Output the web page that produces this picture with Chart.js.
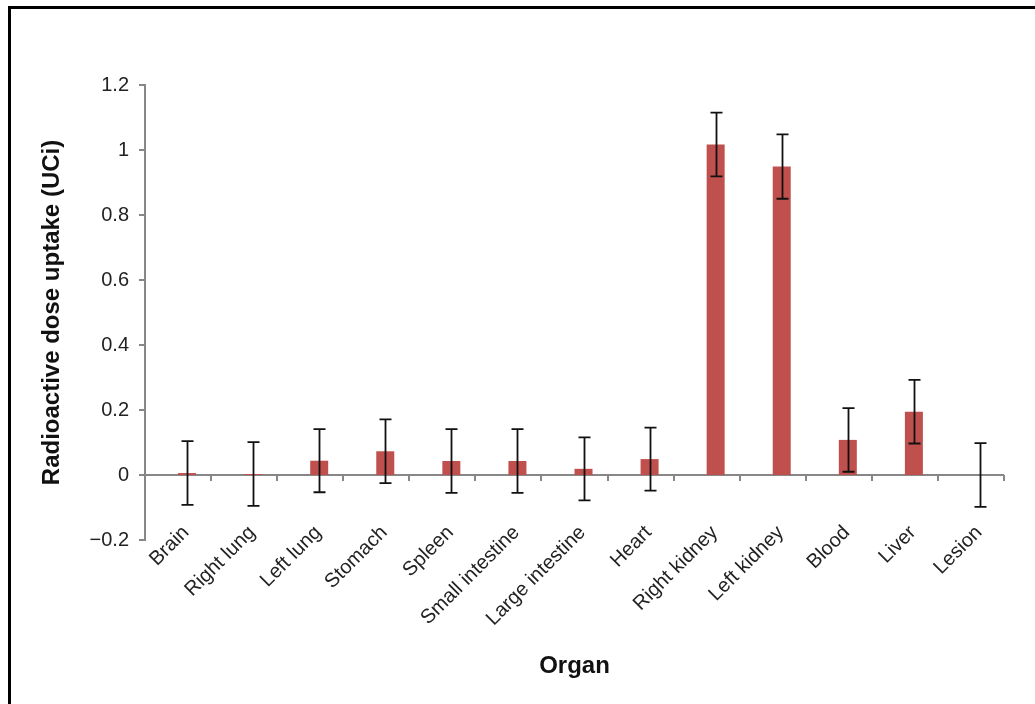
<!DOCTYPE html>
<html lang="en">
<head>
  <meta charset="UTF-8" />
  <title>Radioactive dose uptake by organ</title>
  <script src="https://cdn.jsdelivr.net/npm/chart.js"></script>
  <style>
    body {
      margin: 0;
      background: #ffffff;
      font-family: 'Liberation Sans', Arial, sans-serif;
    }

    .wrap {
      position: relative;
      width: 1035px;
      height: 704px;
    }

    .frame {
      position: absolute;
      left: 8px;
      top: 6px;
      right: 0;
      bottom: 0;
      border-top: 3px solid #000;
      border-left: 3px solid #000;
      pointer-events: none;
    }
  </style>
</head>
<body>

  <div class="wrap">
    <canvas id="uptakeChart"></canvas>
    <div class="frame"></div>
  </div>

  <script>
    // values
    const organs = ['Brain', 'Right lung', 'Left lung', 'Stomach', 'Spleen', 'Small intestine',
                    'Large intestine', 'Heart', 'Right kidney', 'Left kidney', 'Blood', 'Liver', 'Lesion'];
    const uptake = [0.006, 0.003, 0.044, 0.073, 0.043, 0.043, 0.019, 0.049, 1.017, 0.949, 0.108, 0.195, 0.0];
    const uptakeError = [0.098, 0.098, 0.097, 0.098, 0.098, 0.098, 0.097, 0.097, 0.098, 0.099, 0.098, 0.098, 0.098];
    // the original has an empty first series, which pushes the bars right of the category centre
    const emptySeries = [null, null, null, null, null, null, null, null, null, null, null, null, null];
    const yTicks = { min: -0.2, max: 1.2, step: 0.2 };

    const axisGrey = '#878787';
    const barRed = '#c0504d';
    const fontFamily = "'Liberation Sans', Arial, sans-serif";

    // error bars drawn on top of the bars, positioned with the chart's own scales
    const errorBars = {
      id: 'errorBars',
      afterDatasetsDraw(chart) {
        const { ctx, scales: { y } } = chart;
        const meta = chart.getDatasetMeta(1);
        ctx.save();
        ctx.strokeStyle = '#111';
        ctx.lineWidth = 1.8;
        meta.data.forEach((bar, i) => {
          const top = y.getPixelForValue(uptake[i] + uptakeError[i]);
          const bottom = y.getPixelForValue(uptake[i] - uptakeError[i]);
          const x = Math.round(bar.x) + 0.5;
          ctx.beginPath();
          ctx.moveTo(x, top);
          ctx.lineTo(x, bottom);
          ctx.moveTo(x - 6, top);
          ctx.lineTo(x + 6, top);
          ctx.moveTo(x - 6, bottom);
          ctx.lineTo(x + 6, bottom);
          ctx.stroke();
        });
        ctx.restore();
      }
    };

    const ctx = document.getElementById('uptakeChart').getContext('2d');

    new Chart(ctx, {
      type: 'bar',
      data: {
        labels: organs,
        datasets: [
          {
            label: '',
            data: emptySeries,
            backgroundColor: 'rgba(0,0,0,0)',
            categoryPercentage: 0.545,
            barPercentage: 1
          },
          {
            label: 'Uptake',
            data: uptake,
            backgroundColor: barRed,
            borderWidth: 0,
            categoryPercentage: 0.545,
            barPercentage: 1
          }
        ]
      },
      options: {
        responsive: true,
        maintainAspectRatio: false,
        animation: false,
        layout: {
          padding: { left: 12, top: 85, right: 31, bottom: 10 }
        },
        plugins: {
          legend: { display: false },
          tooltip: { enabled: false }
        },
        scales: {
          x: {
            type: 'category',
            position: 'bottom',
            offset: true,
            grid: { display: false, drawTicks: false },
            border: { display: false },
            ticks: { display: false },
            title: {
              display: true,
              text: 'Organ',
              color: '#111',
              padding: { top: 0, bottom: 13 },
              font: { family: fontFamily, size: 24, weight: 'bold' }
            },
            afterFit(scale) { scale.height = 154; }
          },
          // axis line crossing at zero: tick marks between categories and the rotated labels
          xZero: {
            type: 'category',
            axis: 'x',
            position: { y: 0 },
            offset: true,
            grid: {
              offset: true,
              drawOnChartArea: false,
              drawTicks: true,
              tickLength: 6,
              color: axisGrey,
              lineWidth: 2
            },
            border: { display: false },
            ticks: {
              maxRotation: 45,
              minRotation: 45,
              autoSkip: false,
              padding: 40,
              labelOffset: 8,
              color: '#222',
              font: { family: fontFamily, size: 20 }
            }
          },
          y: {
            min: yTicks.min,
            max: yTicks.max,
            grid: {
              color: c => (c.tick && Math.abs(c.tick.value) < 1e-9 ? axisGrey : 'rgba(0,0,0,0)'),
              lineWidth: 2,
              tickColor: axisGrey,
              tickLength: 6
            },
            border: { display: true, color: axisGrey, width: 2 },
            ticks: {
              stepSize: yTicks.step,
              padding: 10,
              color: '#222',
              font: { family: fontFamily, size: 20 },
              callback: v => {
                const r = Math.round(v * 10) / 10;
                return r < 0 ? '\u2212' + Math.abs(r) : String(r);
              }
            },
            title: {
              display: true,
              text: 'Radioactive dose uptake (UCi)',
              color: '#111',
              padding: { top: 26, bottom: 0 },
              font: { family: fontFamily, size: 24, weight: 'bold' }
            },
            afterFit(scale) { scale.width = 133; }
          }
        }
      },
      plugins: [errorBars]
    });
  </script>

</body>
</html>
